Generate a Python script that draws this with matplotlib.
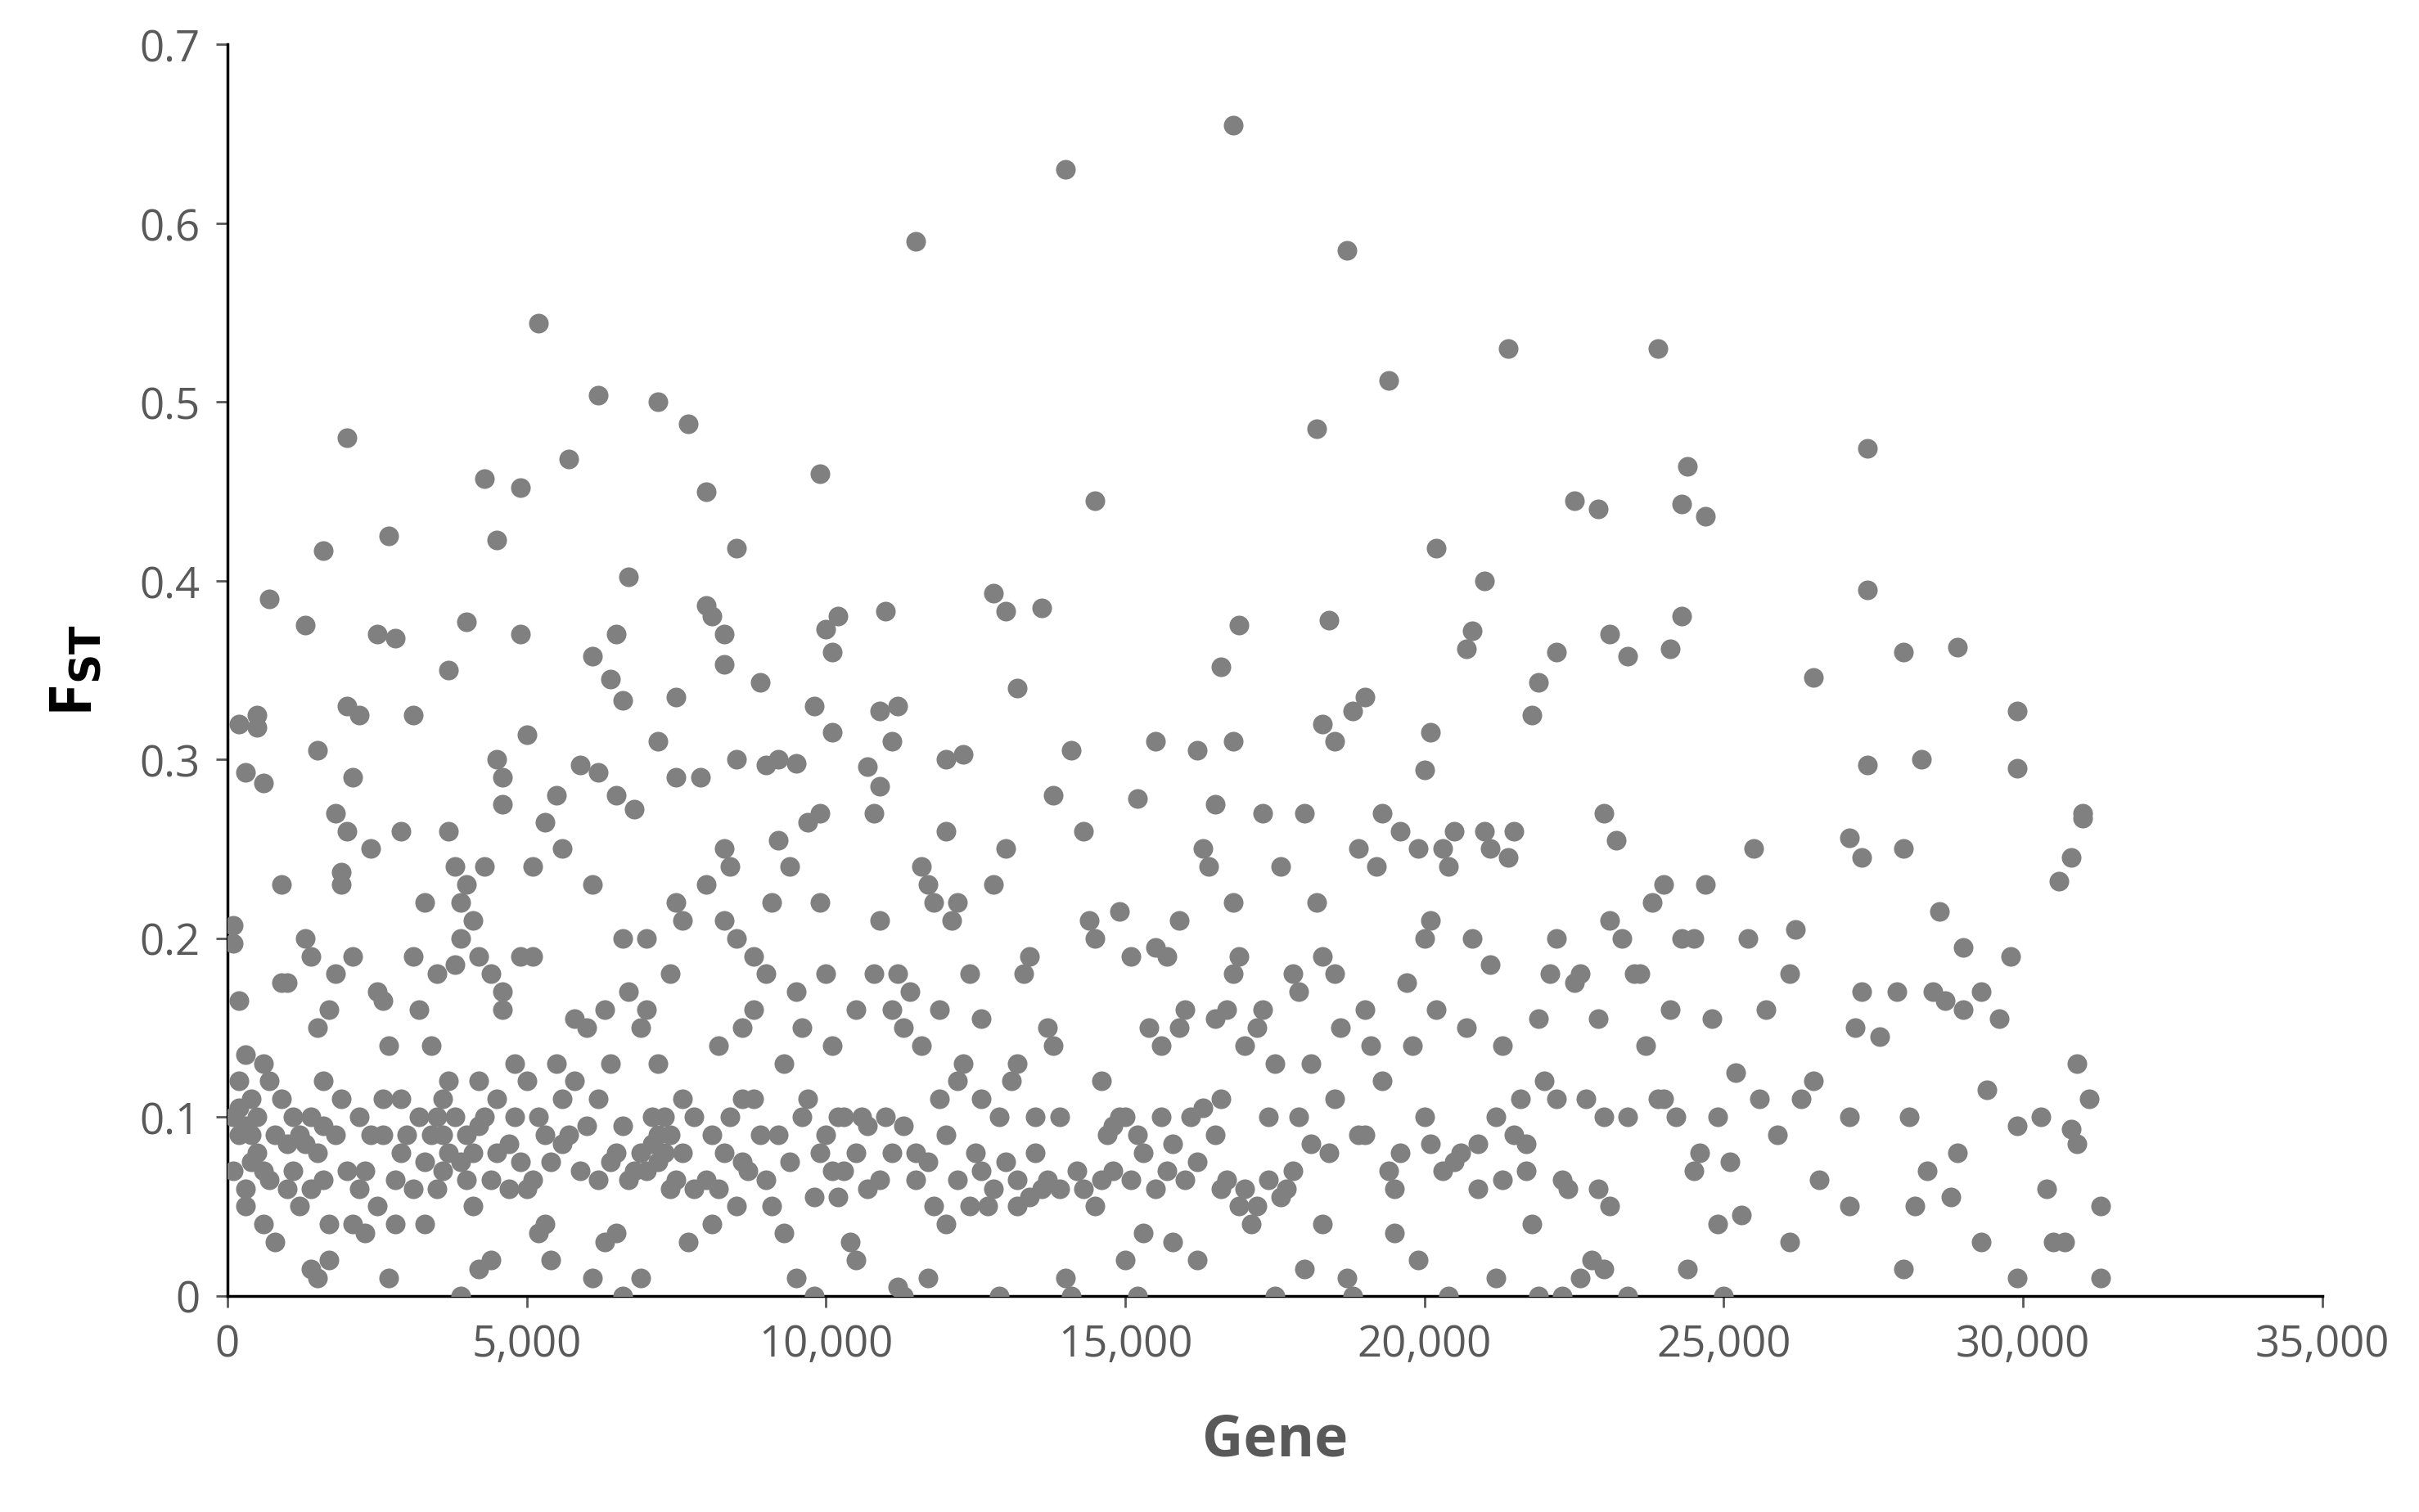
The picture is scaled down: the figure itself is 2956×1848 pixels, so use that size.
import matplotlib.pyplot as plt
from matplotlib.ticker import FuncFormatter

# (gene index in thousands, F_ST)
high_points = [
    (0.2,0.32),(0.5,0.325),(0.5,0.318),(0.3,0.293),(0.6,0.287),(0.7,0.39),(2.0,0.48),(1.6,0.417),(1.5,0.305),
    (2.2,0.325),(2.0,0.33),(2.1,0.29),(2.7,0.425),(2.5,0.37),(2.8,0.368),(2.9,0.26),(3.1,0.325),(3.7,0.35),
    (4.0,0.377),(4.3,0.457),(4.5,0.423),(4.5,0.3),(4.6,0.29),(4.6,0.275),(4.9,0.452),(4.9,0.37),(5.0,0.314),
    (5.2,0.544),(5.3,0.265),(5.7,0.468),(5.9,0.297),(6.2,0.504),(6.1,0.358),(6.4,0.345),(6.5,0.37),(6.6,0.333),
    (6.7,0.402),(6.2,0.293),(6.5,0.28),(6.8,0.272),(7.2,0.5),(7.2,0.31),(7.5,0.335),(7.5,0.29),(7.7,0.488),
    (8.0,0.45),(8.0,0.386),(8.1,0.38),(8.3,0.37),(8.3,0.353),(8.5,0.418),(8.5,0.3),(8.9,0.343),(9.0,0.297),
    (9.2,0.3),(9.5,0.298),(9.9,0.46),(9.8,0.33),(9.9,0.27),(10.0,0.373),(10.2,0.38),(10.1,0.36),(10.1,0.315),
    (10.7,0.296),(10.9,0.327),(11.0,0.383),(11.2,0.33),(11.1,0.31),(11.5,0.59),(12.0,0.3),(12.3,0.303),
    (12.8,0.393),(13.0,0.383),(13.2,0.34),(13.6,0.385),(14.0,0.63),(13.8,0.28),(14.1,0.305),(14.5,0.445),
    (16.8,0.655),(16.6,0.352),(16.9,0.375),(16.8,0.31),(16.5,0.275),(15.5,0.31),(15.2,0.278),(16.2,0.305),
    (17.3,0.27),(18.2,0.485),(18.4,0.378),(18.3,0.32),(18.5,0.31),(18.7,0.585),(18.8,0.327),(19.0,0.335),
    (19.4,0.512),(19.3,0.27),(20.2,0.418),(20.1,0.315),(20.0,0.294),(20.7,0.362),(20.8,0.372),(21.0,0.4),
    (21.4,0.53),(21.8,0.325),(21.9,0.343),(22.2,0.36),(22.5,0.445),(22.9,0.44),(23.1,0.37),(23.4,0.358),
    (23.0,0.27),(23.9,0.53),(24.1,0.362),(24.3,0.443),(24.4,0.464),(24.7,0.436),(24.3,0.38),(26.5,0.346),
    (27.4,0.474),(27.4,0.395),(27.4,0.297),(28.0,0.36),(28.3,0.3),(28.9,0.363),(29.9,0.327),(29.9,0.295),
    (31.0,0.27),(31.0,0.267),(30.8,0.245),(30.6,0.232),(27.1,0.256),
]

low_points = [
    (0.1,0.207),(0.1,0.197),(0.2,0.165),(0.3,0.135),(0.1,0.1),(0.2,0.09),(0.1,0.07),(0.3,0.06),(0.4,0.11),
    (0.5,0.1),(0.5,0.08),(0.6,0.13),(0.7,0.12),(0.6,0.04),(0.8,0.09),(0.9,0.175),(0.9,0.23),(1.0,0.175),
    (0.8,0.03),(1.0,0.06),(0.3,0.05),(0.4,0.075),(0.2,0.12),
    (1.1,0.1),(1.2,0.09),(1.3,0.2),(1.4,0.19),(1.3,0.375),(1.5,0.15),(1.4,0.1),(1.5,0.08),(1.6,0.065),
    (1.4,0.015),(1.5,0.01),(1.7,0.02),(1.8,0.27),(1.9,0.237),(1.9,0.23),(1.8,0.18),(1.7,0.16),(1.9,0.11),
    (1.7,0.04),(1.2,0.05),(1.6,0.12),
    (2.0,0.26),(2.1,0.19),(2.2,0.1),(2.3,0.07),(2.4,0.25),(2.5,0.17),(2.6,0.165),(2.5,0.05),(2.7,0.14),
    (2.7,0.01),(2.8,0.04),(2.9,0.11),(2.6,0.09),(2.3,0.035),(2.1,0.04),(2.9,0.08),
    (3.1,0.19),(3.3,0.22),(3.2,0.16),(3.4,0.14),(3.5,0.18),(3.6,0.11),(3.7,0.26),(3.8,0.24),(3.9,0.22),
    (3.9,0.2),(3.8,0.185),(3.6,0.09),(3.5,0.06),(3.3,0.04),(3.9,0.0),(3.7,0.08),(3.2,0.1),(3.4,0.09),
    (4.0,0.23),(4.1,0.21),(4.2,0.19),(4.3,0.24),(4.4,0.18),(4.6,0.17),(4.6,0.16),(4.2,0.12),(4.3,0.1),
    (4.5,0.08),(4.1,0.05),(4.2,0.015),(4.4,0.02),(4.7,0.06),(4.8,0.1),(4.9,0.19),(4.0,0.09),(4.8,0.13),
    (5.1,0.24),(5.1,0.19),(5.0,0.12),(5.2,0.1),(5.3,0.04),(5.4,0.02),(5.5,0.13),(5.5,0.28),(5.6,0.25),
    (5.8,0.155),(5.7,0.09),(5.9,0.07),(5.2,0.035),(5.0,0.06),(5.6,0.11),
    (6.0,0.15),(6.1,0.23),(6.2,0.11),(6.3,0.03),(6.1,0.01),(6.4,0.13),(6.5,0.08),(6.6,0.2),(6.7,0.17),
    (6.6,0.0),(6.8,0.07),(6.9,0.15),(6.9,0.01),(6.3,0.16),(6.5,0.035),
    (7.0,0.2),(7.1,0.1),(7.2,0.09),(7.3,0.08),(7.2,0.13),(7.4,0.18),(7.5,0.22),(7.6,0.21),(7.7,0.03),
    (7.8,0.06),(7.9,0.29),(7.6,0.11),(7.0,0.16),(7.4,0.06),
    (8.0,0.23),(8.1,0.04),(8.2,0.14),(8.3,0.25),(8.3,0.21),(8.4,0.24),(8.5,0.2),(8.6,0.15),(8.6,0.11),
    (8.7,0.07),(8.8,0.16),(8.9,0.09),(8.2,0.06),(8.5,0.05),(8.8,0.19),
    (9.0,0.18),(9.1,0.22),(9.2,0.255),(9.3,0.13),(9.4,0.24),(9.5,0.17),(9.6,0.15),(9.7,0.11),(9.8,0.0),
    (9.9,0.08),(9.3,0.035),(9.1,0.05),(9.5,0.01),(9.9,0.22),(9.7,0.265),
    (10.0,0.18),(10.1,0.14),(10.2,0.1),(10.3,0.07),(10.4,0.03),(10.5,0.16),(10.6,0.1),(10.7,0.06),
    (10.8,0.27),(10.9,0.285),(10.9,0.21),(11.0,0.1),(10.5,0.02),(10.2,0.055),(10.8,0.18),
    (11.1,0.16),(11.2,0.18),(11.3,0.15),(11.4,0.17),(11.5,0.08),(11.6,0.24),(11.7,0.23),(11.8,0.05),
    (11.9,0.16),(11.3,0.0),(11.7,0.01),(11.9,0.11),(11.2,0.005),(11.6,0.14),(11.8,0.22),
    (12.0,0.26),(12.1,0.21),(12.2,0.22),(12.3,0.13),(12.4,0.18),(12.5,0.08),(12.6,0.155),(12.7,0.05),
    (12.8,0.23),(12.9,0.1),(12.9,0.0),(12.2,0.12),(12.6,0.11),(12.0,0.04),
    (13.0,0.25),(13.1,0.12),(13.2,0.05),(13.3,0.18),(13.4,0.19),(13.5,0.08),(13.6,0.06),(13.7,0.15),
    (13.8,0.14),(13.9,0.1),(14.0,0.01),(13.5,0.1),(13.2,0.13),
    (14.1,0.0),(14.3,0.26),(14.4,0.21),(14.5,0.2),(14.6,0.12),(14.7,0.09),(14.8,0.07),(14.9,0.215),
    (14.5,0.05),(14.3,0.06),(14.9,0.1),
    (15.0,0.1),(15.1,0.19),(15.2,0.09),(15.3,0.035),(15.4,0.15),(15.5,0.195),(15.6,0.14),(15.7,0.07),
    (15.8,0.03),(15.9,0.15),(15.2,0.0),(15.5,0.06),(15.9,0.21),(15.7,0.19),(15.0,0.02),
    (16.0,0.16),(16.1,0.1),(16.2,0.075),(16.3,0.25),(16.4,0.24),(16.5,0.155),(16.6,0.11),(16.7,0.16),
    (16.8,0.22),(16.9,0.19),(16.9,0.05),(16.2,0.02),(16.6,0.06),(16.8,0.18),
    (17.0,0.14),(17.1,0.04),(17.2,0.15),(17.3,0.16),(17.4,0.1),(17.5,0.0),(17.6,0.24),(17.7,0.06),
    (17.8,0.18),(17.9,0.17),(17.8,0.07),(17.5,0.13),
    (18.0,0.27),(18.1,0.13),(18.2,0.22),(18.3,0.19),(18.4,0.08),(18.5,0.18),(18.6,0.15),(18.7,0.01),
    (18.8,0.0),(18.9,0.25),(18.9,0.09),(18.3,0.04),(18.0,0.015),
    (19.0,0.16),(19.1,0.14),(19.2,0.24),(19.3,0.12),(19.4,0.07),(19.5,0.06),(19.6,0.26),(19.7,0.175),
    (19.8,0.14),(19.9,0.02),(19.9,0.25),(19.5,0.035),
    (20.0,0.2),(20.1,0.21),(20.2,0.16),(20.3,0.25),(20.4,0.24),(20.5,0.26),(20.3,0.07),(20.4,0.0),
    (20.6,0.08),(20.7,0.15),(20.8,0.2),(20.9,0.06),(20.0,0.1),
    (21.0,0.26),(21.1,0.25),(21.1,0.185),(21.2,0.01),(21.3,0.14),(21.4,0.245),(21.5,0.26),(21.6,0.11),
    (21.7,0.07),(21.8,0.04),(21.9,0.0),(21.5,0.09),(21.2,0.1),(21.9,0.155),
    (22.0,0.12),(22.1,0.18),(22.2,0.2),(22.3,0.0),(22.4,0.06),(22.5,0.175),(22.6,0.18),(22.7,0.11),
    (22.8,0.02),(22.9,0.155),(22.6,0.01),(22.2,0.11),
    (23.0,0.1),(23.1,0.21),(23.2,0.255),(23.3,0.2),(23.4,0.0),(23.5,0.18),(23.6,0.18),(23.7,0.14),
    (23.8,0.22),(23.9,0.11),(23.1,0.05),(23.0,0.015),
    (24.0,0.23),(24.1,0.16),(24.2,0.1),(24.3,0.2),(24.4,0.015),(24.5,0.2),(24.6,0.08),(24.7,0.23),
    (24.8,0.155),(24.9,0.04),(25.0,0.0),(24.9,0.1),
    (25.2,0.125),(25.3,0.045),(25.4,0.2),(25.5,0.25),(25.6,0.11),(25.7,0.16),(25.9,0.09),(26.1,0.18),
    (26.1,0.03),(26.2,0.205),(26.3,0.11),
    (26.5,0.12),(26.6,0.065),(27.1,0.1),(27.2,0.15),(27.3,0.17),(27.3,0.245),(27.1,0.05),(27.6,0.145),
    (27.9,0.17),(28.0,0.25),(28.1,0.1),(28.0,0.015),
    (28.2,0.05),(28.4,0.07),(28.5,0.17),(28.6,0.215),(28.7,0.165),(28.8,0.055),(28.9,0.08),(29.0,0.195),
    (29.0,0.16),(29.3,0.17),(29.4,0.115),(29.3,0.03),(29.6,0.155),(29.9,0.01),(29.8,0.19),(29.9,0.095),
    (30.3,0.1),(30.4,0.06),(30.5,0.03),(30.7,0.03),(30.8,0.093),(30.9,0.13),(30.9,0.085),(31.1,0.11),
    (31.3,0.05),(31.3,0.01),
]

# the dense band near 0.05-0.15 in the left two thirds
dense_points = [
    (0.2,0.105),(0.3,0.095),(0.4,0.09),(0.6,0.07),(0.7,0.065),(0.9,0.11),(1.0,0.085),(1.1,0.07),(1.3,0.085),
    (1.4,0.06),(1.6,0.095),(1.8,0.09),(2.0,0.07),(2.2,0.06),(2.4,0.09),(2.6,0.11),(2.8,0.065),(3.0,0.09),
    (3.1,0.06),(3.3,0.075),(3.5,0.1),(3.6,0.07),(3.7,0.12),(3.8,0.1),(3.9,0.075),(4.0,0.065),(4.1,0.08),
    (4.2,0.095),(4.4,0.065),(4.5,0.11),(4.7,0.085),(4.9,0.075),(5.1,0.065),(5.3,0.09),(5.4,0.075),(5.6,0.085),
    (5.8,0.12),(6.0,0.095),(6.2,0.065),(6.4,0.075),(6.6,0.095),(6.7,0.065),(6.9,0.08),(7.0,0.07),(7.1,0.085),
    (7.2,0.075),(7.3,0.1),(7.4,0.09),(7.5,0.065),(7.6,0.08),(7.8,0.1),(8.0,0.065),(8.1,0.09),(8.3,0.08),
    (8.4,0.1),(8.6,0.075),(8.8,0.11),(9.0,0.065),(9.2,0.09),(9.4,0.075),(9.6,0.1),(9.8,0.055),(10.0,0.09),
    (10.1,0.07),(10.3,0.1),(10.5,0.08),(10.7,0.095),(10.9,0.065),(11.1,0.08),(11.3,0.095),(11.5,0.065),
    (11.7,0.075),(12.0,0.09),(12.2,0.065),(12.4,0.05),(12.6,0.07),(12.8,0.06),(13.0,0.075),(13.2,0.065),
    (13.4,0.055),(13.7,0.065),(13.9,0.06),(14.2,0.07),(14.6,0.065),(14.8,0.095),(15.1,0.065),(15.3,0.08),
    (15.6,0.1),(15.8,0.085),(16.0,0.065),(16.3,0.105),(16.5,0.09),(16.7,0.065),(17.0,0.06),(17.2,0.05),
    (17.4,0.065),(17.6,0.055),(17.9,0.1),(18.1,0.085),(18.5,0.11),(19.0,0.09),(19.6,0.08),(20.1,0.085),
    (20.5,0.075),(20.9,0.085),(21.3,0.065),(21.7,0.085),(22.3,0.065),(22.9,0.06),(23.4,0.1),(24.0,0.11),
    (24.5,0.07),(25.1,0.075),
]

x_ticks = list(range(0, 35001, 5000))
y_ticks = [0, 0.1, 0.2, 0.3, 0.4, 0.5, 0.6, 0.7]

points = high_points + low_points + dense_points
gene = [p[0] * 1000 for p in points]
fst = [p[1] for p in points]

plt.rcParams['font.family'] = ['Open Sans', 'DejaVu Sans']
fig = plt.figure(figsize=(29.56, 18.49), dpi=100)
ax = fig.add_axes([0.094, 0.143, 0.866, 0.827])

ax.scatter(gene, fst, s=300, color='#808080', linewidths=0, zorder=3)

ax.set_xlim(0, 35000)
ax.set_ylim(0, 0.7)
ax.set_xticks(x_ticks)
ax.set_yticks(y_ticks)
ax.xaxis.set_major_formatter(FuncFormatter(lambda v, p: f"{int(v):,}"))
ax.yaxis.set_major_formatter(FuncFormatter(lambda v, p: "0" if v == 0 else f"{v:.1f}"))
ax.tick_params(labelsize=38, colors='#595959', length=10, width=2, pad=14)

for side in ['top', 'right']:
    ax.spines[side].set_visible(False)
for side in ['left', 'bottom']:
    ax.spines[side].set_linewidth(2.5)
    ax.spines[side].set_color('#000000')

ax.set_xlabel("Gene", fontsize=50, fontweight='bold', color='#595959', labelpad=40)
ax.set_ylabel(r"F$_{\mathbf{ST}}$", fontsize=52, fontweight='bold', color='#000000', labelpad=30)

fig.savefig("out.png", dpi=100)
